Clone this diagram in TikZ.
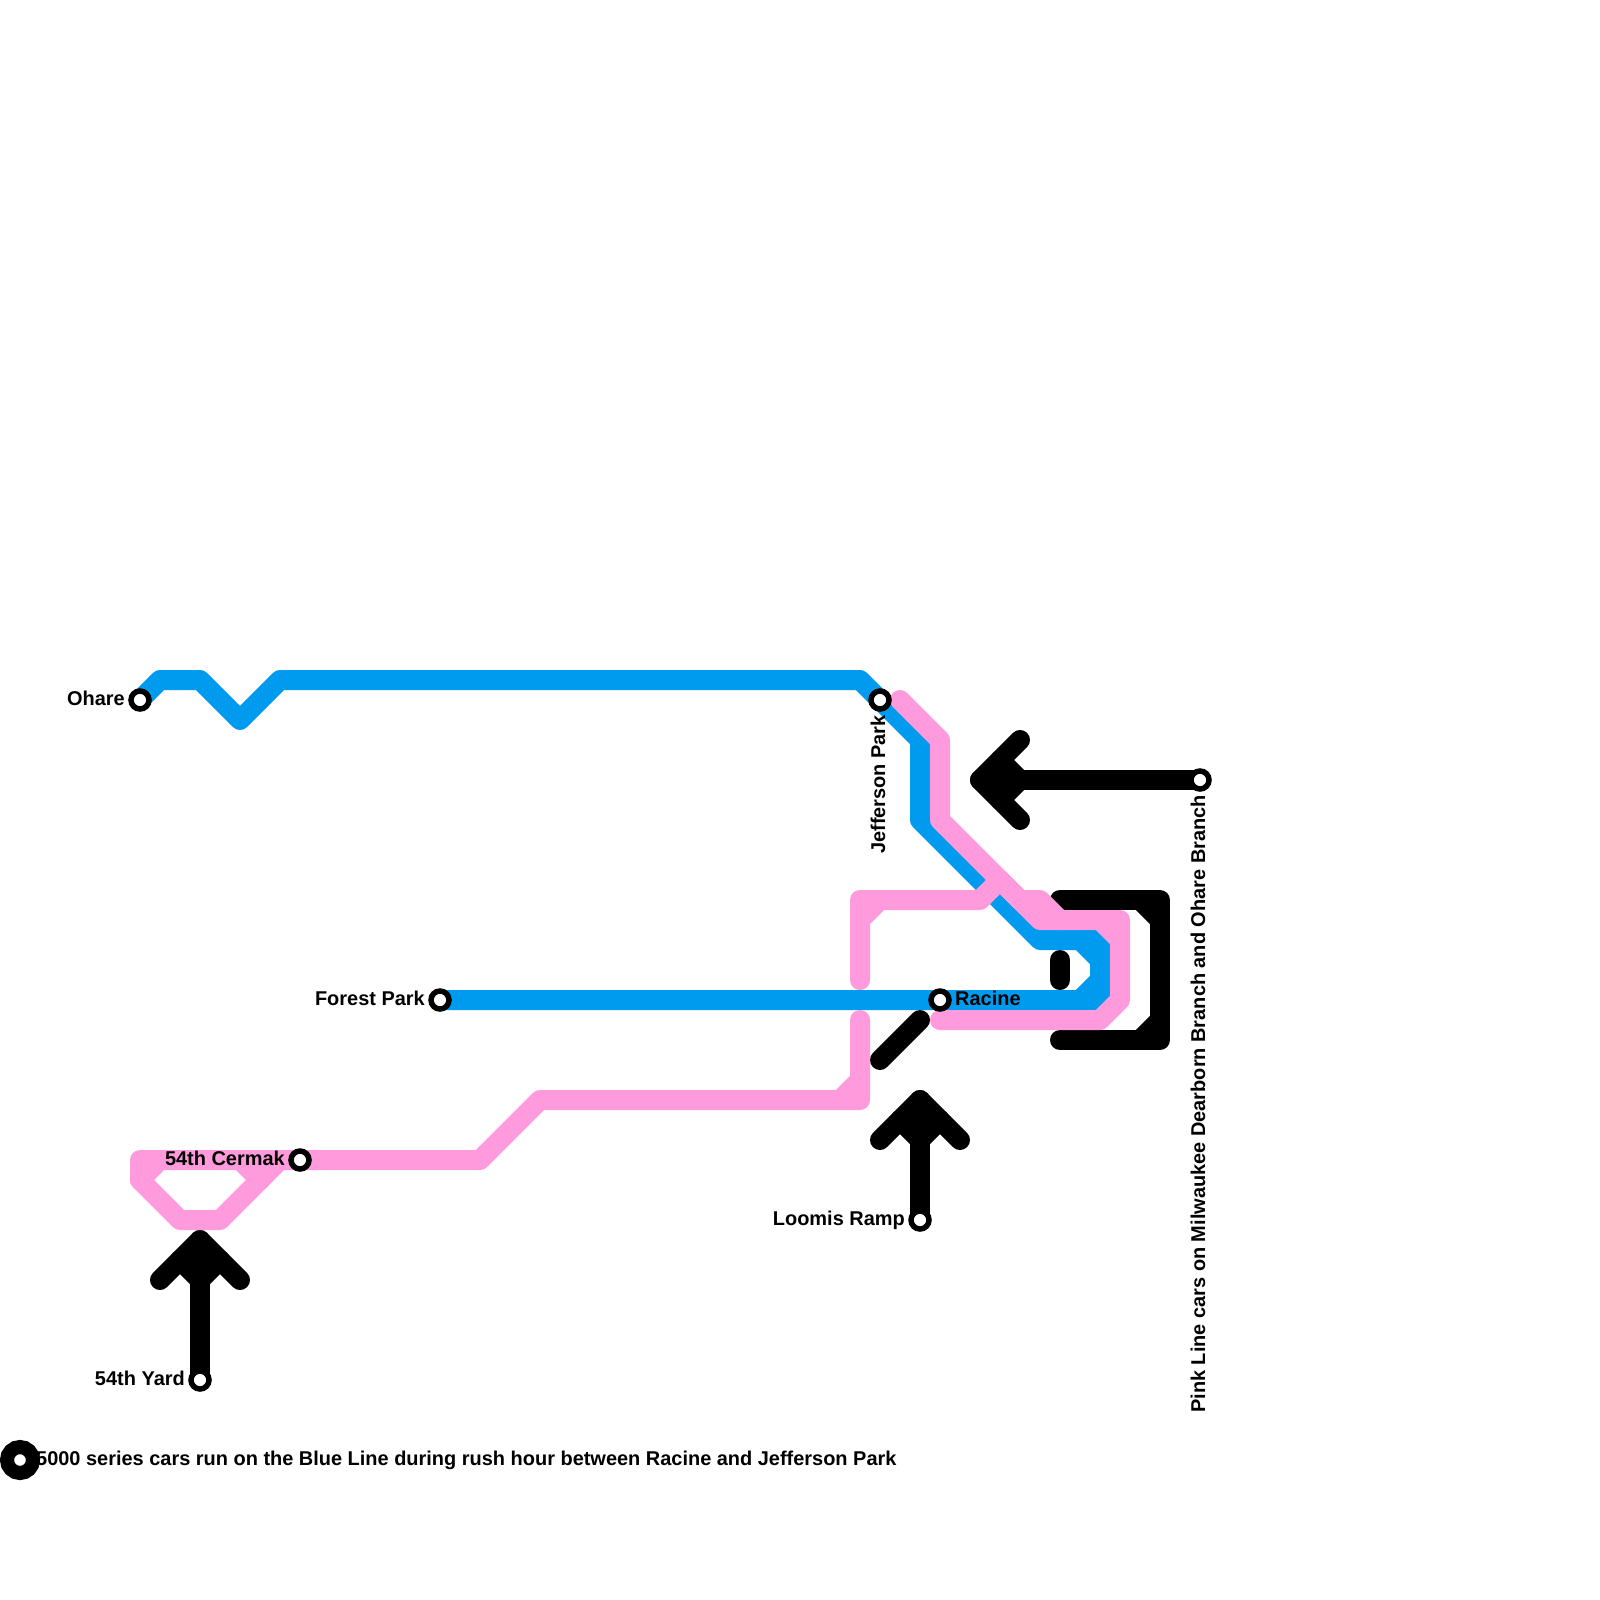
\documentclass[tikz,border=0pt]{standalone}
\usepackage{fontspec}
\setmainfont{Liberation Sans}
\tikzset{
  x=1pt,y=-1pt,
  rail/.style={line width=20pt,line cap=round,line join=round},
  blueline/.style={rail,draw={rgb,255:red,0;green,155;blue,238}},
  pinkline/.style={rail,draw={rgb,255:red,255;green,155;blue,220}},
  blackline/.style={rail,draw=black},
  station/.style={circle,draw=black,fill=white,line width=5.5pt,minimum size=18pt,inner sep=0pt},
  bigstation/.style={circle,draw=black,fill=white,line width=14pt,minimum size=26pt,inner sep=0pt},
  lbl/.style={font=\bfseries\fontsize{19.95}{22}\selectfont,inner sep=0pt,text=black}
}
\begin{document}
\begin{tikzpicture}
\useasboundingbox (0,0) rectangle (1600,1600);
\fill[white] (0,0) rectangle (1600,1600);
% station positions
\coordinate (ohareP) at (140,700);
\coordinate (jeffP) at (880,700);
\coordinate (forestP) at (440,1000);
\coordinate (racineP) at (940,1000);
\coordinate (cermakP) at (300,1160);
\coordinate (loomisP) at (920,1220);
\coordinate (yardP) at (200,1380);
\coordinate (pinkP) at (1200,780);
\coordinate (noteP) at (20,1460);
% black
\draw[blackline] (pinkP) -- (980,780);
\draw[blackline] (1020,740) -- (980,780) -- (1020,820);
\draw[blackline] (1000,760) -- (1020,780) -- (1000,800);
\draw[blackline] (loomisP) -- (920,1100);
\draw[blackline] (880,1140) -- (920,1100) -- (960,1140);
\draw[blackline] (900,1120) -- (920,1140) -- (940,1120);
\draw[blackline] (yardP) -- (200,1240);
\draw[blackline] (160,1280) -- (200,1240) -- (240,1280);
\draw[blackline] (180,1260) -- (200,1280) -- (220,1260);
\draw[blackline] (880,1060) -- (920,1020);
\draw[blackline] (1060,960) -- (1060,980);
\draw[blackline] (1060,900) -- (1160,900) -- (1160,1040) -- (1060,1040);
\draw[blackline] (1140,900) -- (1160,920);
\draw[blackline] (1160,1020) -- (1140,1040);
% blue
\draw[blueline] (ohareP) -- (160,680) -- (200,680) -- (240,720) -- (280,680) -- (860,680) -- (jeffP) -- (920,740) -- (920,820) -- (1040,940) -- (1080,940) -- (1100,960) -- (1100,980) -- (1080,1000) -- (racineP) -- (forestP);
\draw[blueline] (1080,940) -- (1100,940) -- (1100,1000) -- (1080,1000);
% pink
\draw[pinkline] (900,700) -- (940,740) -- (940,820) -- (1040,920) -- (1120,920) -- (1120,1000) -- (1100,1020) -- (940,1020);
\draw[pinkline] (1100,920) -- (1120,940);
\draw[pinkline] (860,980) -- (860,900) -- (980,900) -- (1000,880);
\draw[pinkline] (860,920) -- (880,900);
\draw[pinkline] (1020,900) -- (1040,900) -- (1060,920);
\draw[pinkline] (1000,880) -- (1020,900);
\draw[pinkline] (860,1020) -- (860,1100) -- (540,1100) -- (480,1160) -- (cermakP) -- (140,1160) -- (140,1180) -- (180,1220) -- (220,1220) -- (280,1160);
\draw[pinkline] (840,1100) -- (860,1080);
\draw[pinkline] (160,1160) -- (140,1180);
\draw[pinkline] (240,1160) -- (260,1180);
% stations
\node[station] (ohare) at (ohareP) {};
\node[station] (jeff) at (jeffP) {};
\node[station] (forest) at (forestP) {};
\node[station] (racine) at (racineP) {};
\node[station] (cermak) at (cermakP) {};
\node[station] (loomis) at (loomisP) {};
\node[station] (yard) at (yardP) {};
\node[station] (pinkst) at (pinkP) {};
\node[bigstation] (note) at (noteP) {};
% labels
\node[lbl,anchor=base east] (ohareL) at (125,705) {Ohare};
\node[lbl,anchor=base west,rotate=90] (jeffL) at (885,854) {Jefferson Park};
\node[lbl,anchor=base east] (forestL) at (425,1005) {Forest Park};
\node[lbl,anchor=base west] (racineL) at (955,1005) {Racine};
\node[lbl,anchor=base east] (cermakL) at (285,1165) {54th Cermak};
\node[lbl,anchor=base east] (loomisL) at (905,1225) {Loomis Ramp};
\node[lbl,anchor=base east] (yardL) at (185,1385) {54th Yard};
\node[lbl,anchor=base east,rotate=90] (pinkL) at (1205,795) {Pink Line cars on Milwaukee Dearborn Branch and Ohare Branch};
\node[lbl,anchor=base west] (noteL) at (36,1465) {5000 series cars run on the Blue Line during rush hour between Racine and Jefferson Park};
\end{tikzpicture}
\end{document}
